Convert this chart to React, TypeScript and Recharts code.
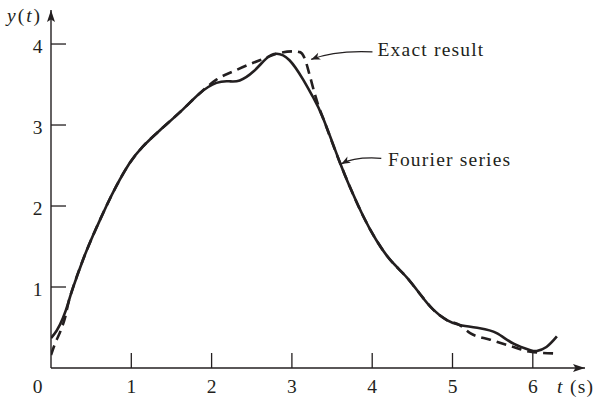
import React from 'react';
import { LineChart, Line, XAxis, YAxis, ReferenceDot, Label } from 'recharts';

// Fourier series approximation (solid)
const fourierT = [0, 0.07, 0.15, 0.22, 0.27, 0.40, 0.52, 0.69, 0.81, 0.98, 1.14, 1.35, 1.64, 1.85, 2.06, 2.22, 2.35, 2.52, 2.68, 2.81, 2.97, 3.14, 3.26, 3.39, 3.60, 3.72, 3.89, 4.05, 4.22, 4.43, 4.59, 4.76, 4.93, 5.09, 5.34, 5.55, 5.76, 5.97, 6.05, 6.17, 6.30];
const fourierY = [0.37, 0.46, 0.62, 0.82, 0.98, 1.34, 1.63, 2.0, 2.24, 2.53, 2.73, 2.93, 3.19, 3.39, 3.52, 3.54, 3.55, 3.66, 3.82, 3.88, 3.80, 3.56, 3.35, 3.08, 2.53, 2.24, 1.87, 1.58, 1.34, 1.12, 0.92, 0.72, 0.59, 0.53, 0.49, 0.43, 0.30, 0.22, 0.21, 0.26, 0.39];

// Exact result (dashed)
const exactT = [0, 0.05, 0.12, 0.18, 0.22, 0.27, 0.40, 0.52, 0.69, 0.81, 0.98, 1.14, 1.35, 1.64, 1.85, 2.06, 2.31, 2.60, 2.85, 3.02, 3.10, 3.16, 3.22, 3.28, 3.34, 3.39, 3.60, 3.72, 3.89, 4.05, 4.22, 4.43, 4.59, 4.76, 4.93, 5.09, 5.22, 5.47, 5.76, 5.97, 6.28];
const exactY = [0.16, 0.30, 0.46, 0.64, 0.82, 0.98, 1.34, 1.63, 2.0, 2.24, 2.53, 2.73, 2.93, 3.19, 3.39, 3.56, 3.68, 3.80, 3.89, 3.91, 3.90, 3.82, 3.62, 3.40, 3.21, 3.08, 2.53, 2.24, 1.87, 1.58, 1.34, 1.12, 0.92, 0.72, 0.59, 0.53, 0.43, 0.35, 0.26, 0.20, 0.18];

const xTicks = [0, 1, 2, 3, 4, 5, 6];
const yTicks = [1, 2, 3, 4];
const xMax = 6.65;
const yMax = 4.42;

// annotation anchors (data coordinates of arrow tips)
const exactLabel = { t: 3.24, y: 3.81, text: 'Exact result' };
const fourierLabel = { t: 3.615, y: 2.52, text: 'Fourier series' };

const fourierData = fourierT.map((t, i) => ({ t, y: fourierY[i] }));
const exactData = exactT.map((t, i) => ({ t, y: exactY[i] }));

const INK = '#231f20';
const FONT = '"Liberation Serif", "Times New Roman", serif';
const FS = 19.5;

function XTick(props: any) {
  const { x, y, payload } = props;
  const v = payload.value;
  if (v === 0) {
    return (
      <text x={x - 13.5} y={y + 25} textAnchor="middle" fontFamily={FONT} fontSize={FS} fill={INK}>0</text>
    );
  }
  return (
    <g>
      <line x1={x} y1={y} x2={x} y2={y - 15} stroke={INK} strokeWidth={1.3} />
      <text x={x} y={y + 25} textAnchor="middle" fontFamily={FONT} fontSize={FS} fill={INK}>{v}</text>
    </g>
  );
}

function YTick(props: any) {
  const { x, y, payload } = props;
  return (
    <g>
      <line x1={x} y1={y} x2={x + 15} y2={y} stroke={INK} strokeWidth={1.3} />
      <text x={x - 13.5} y={y + 9} textAnchor="middle" fontFamily={FONT} fontSize={FS} fill={INK}>{payload.value}</text>
    </g>
  );
}

function XAxisTitle(props: any) {
  const vb = props.viewBox || {};
  return (
    <text x={vb.x + vb.width - 28} y={vb.y + 25} fontFamily={FONT} fontSize={FS} fill={INK} letterSpacing={1.3}>
      <tspan fontStyle="italic">t</tspan>
      <tspan> (s)</tspan>
    </text>
  );
}

function YAxisTitle(props: any) {
  const vb = props.viewBox || {};
  return (
    <text x={vb.x + 7} y={vb.y + 12} fontFamily={FONT} fontSize={FS} fill={INK} letterSpacing={2}>
      <tspan fontStyle="italic">y</tspan>
      <tspan>(</tspan>
      <tspan fontStyle="italic">t</tspan>
      <tspan>)</tspan>
    </text>
  );
}

function Callout(props: any) {
  const { cx, cy, sx, sy, qx, qy, tx, ty, text } = props;
  const x0 = cx + sx;
  const y0 = cy + sy;
  const cxp = cx + qx;
  const cyp = cy + qy;
  const ang = (Math.atan2(cy - cyp, cx - cxp) * 180) / Math.PI;
  return (
    <g>
      <path d={`M${x0},${y0} Q${cxp},${cyp} ${cx},${cy}`} fill="none" stroke={INK} strokeWidth={1.2} />
      <polygon points="0,0 -9,-3.6 -6.5,0 -9,3.6" fill={INK} transform={`translate(${cx},${cy}) rotate(${ang})`} />
      <text x={cx + tx} y={cy + ty} fontFamily={FONT} fontSize={FS} fill={INK} letterSpacing={1.2}>{text}</text>
    </g>
  );
}

export default function App() {
  return (
    <div style={{ position: 'absolute', left: 0, top: 0, width: 595, height: 399, background: '#fff' }}>
      <svg width={0} height={0} style={{ position: 'absolute' }}>
        <defs>
          <marker id="axisArrow" viewBox="0 0 12 8" refX={12} refY={4} markerWidth={12} markerHeight={8} markerUnits="userSpaceOnUse" orient="auto-start-reverse">
            <path d="M0,0 L12,4 L0,8 L2.5,4 z" fill={INK} />
          </marker>
        </defs>
      </svg>
      <LineChart width={595} height={399} margin={{ top: 10, right: 10, left: 0, bottom: 0 }}>
        <XAxis
          type="number"
          dataKey="t"
          domain={[0, xMax]}
          ticks={xTicks}
          interval={0}
          allowDataOverflow
          height={31}
          tickSize={0}
          tickMargin={0}
          tickLine={false}
          tick={<XTick />}
          axisLine={{ stroke: INK, strokeWidth: 1.4, markerEnd: 'url(#axisArrow)' } as any}
        >
          <Label content={<XAxisTitle />} />
        </XAxis>
        <YAxis
          type="number"
          dataKey="y"
          domain={[0, yMax]}
          ticks={yTicks}
          interval={0}
          allowDataOverflow
          width={51}
          tickSize={0}
          tickMargin={0}
          tickLine={false}
          tick={<YTick />}
          axisLine={{ stroke: INK, strokeWidth: 1.4, markerStart: 'url(#axisArrow)' } as any}
        >
          <Label content={<YAxisTitle />} />
        </YAxis>
        <Line
          data={fourierData}
          dataKey="y"
          type="natural"
          stroke={INK}
          strokeWidth={2.6}
          dot={false}
          activeDot={false}
          isAnimationActive={false}
        />
        <Line
          data={exactData}
          dataKey="y"
          type="monotone"
          stroke={INK}
          strokeWidth={2.6}
          strokeDasharray="10 6"
          dot={false}
          activeDot={false}
          isAnimationActive={false}
        />
        <ReferenceDot
          x={exactLabel.t}
          y={exactLabel.y}
          r={0}
          ifOverflow="visible"
          shape={(p: any) => (
            <Callout cx={p.cx} cy={p.cy} sx={61.3} sy={-7.6} qx={23.3} qy={-9.3} tx={66.3} ty={-3.3} text={exactLabel.text} />
          )}
        />
        <ReferenceDot
          x={fourierLabel.t}
          y={fourierLabel.y}
          r={0}
          ifOverflow="visible"
          shape={(p: any) => (
            <Callout cx={p.cx} cy={p.cy} sx={40} sy={-5.6} qx={13.3} qy={-7.3} tx={46.6} ty={1.7} text={fourierLabel.text} />
          )}
        />
      </LineChart>
    </div>
  );
}
